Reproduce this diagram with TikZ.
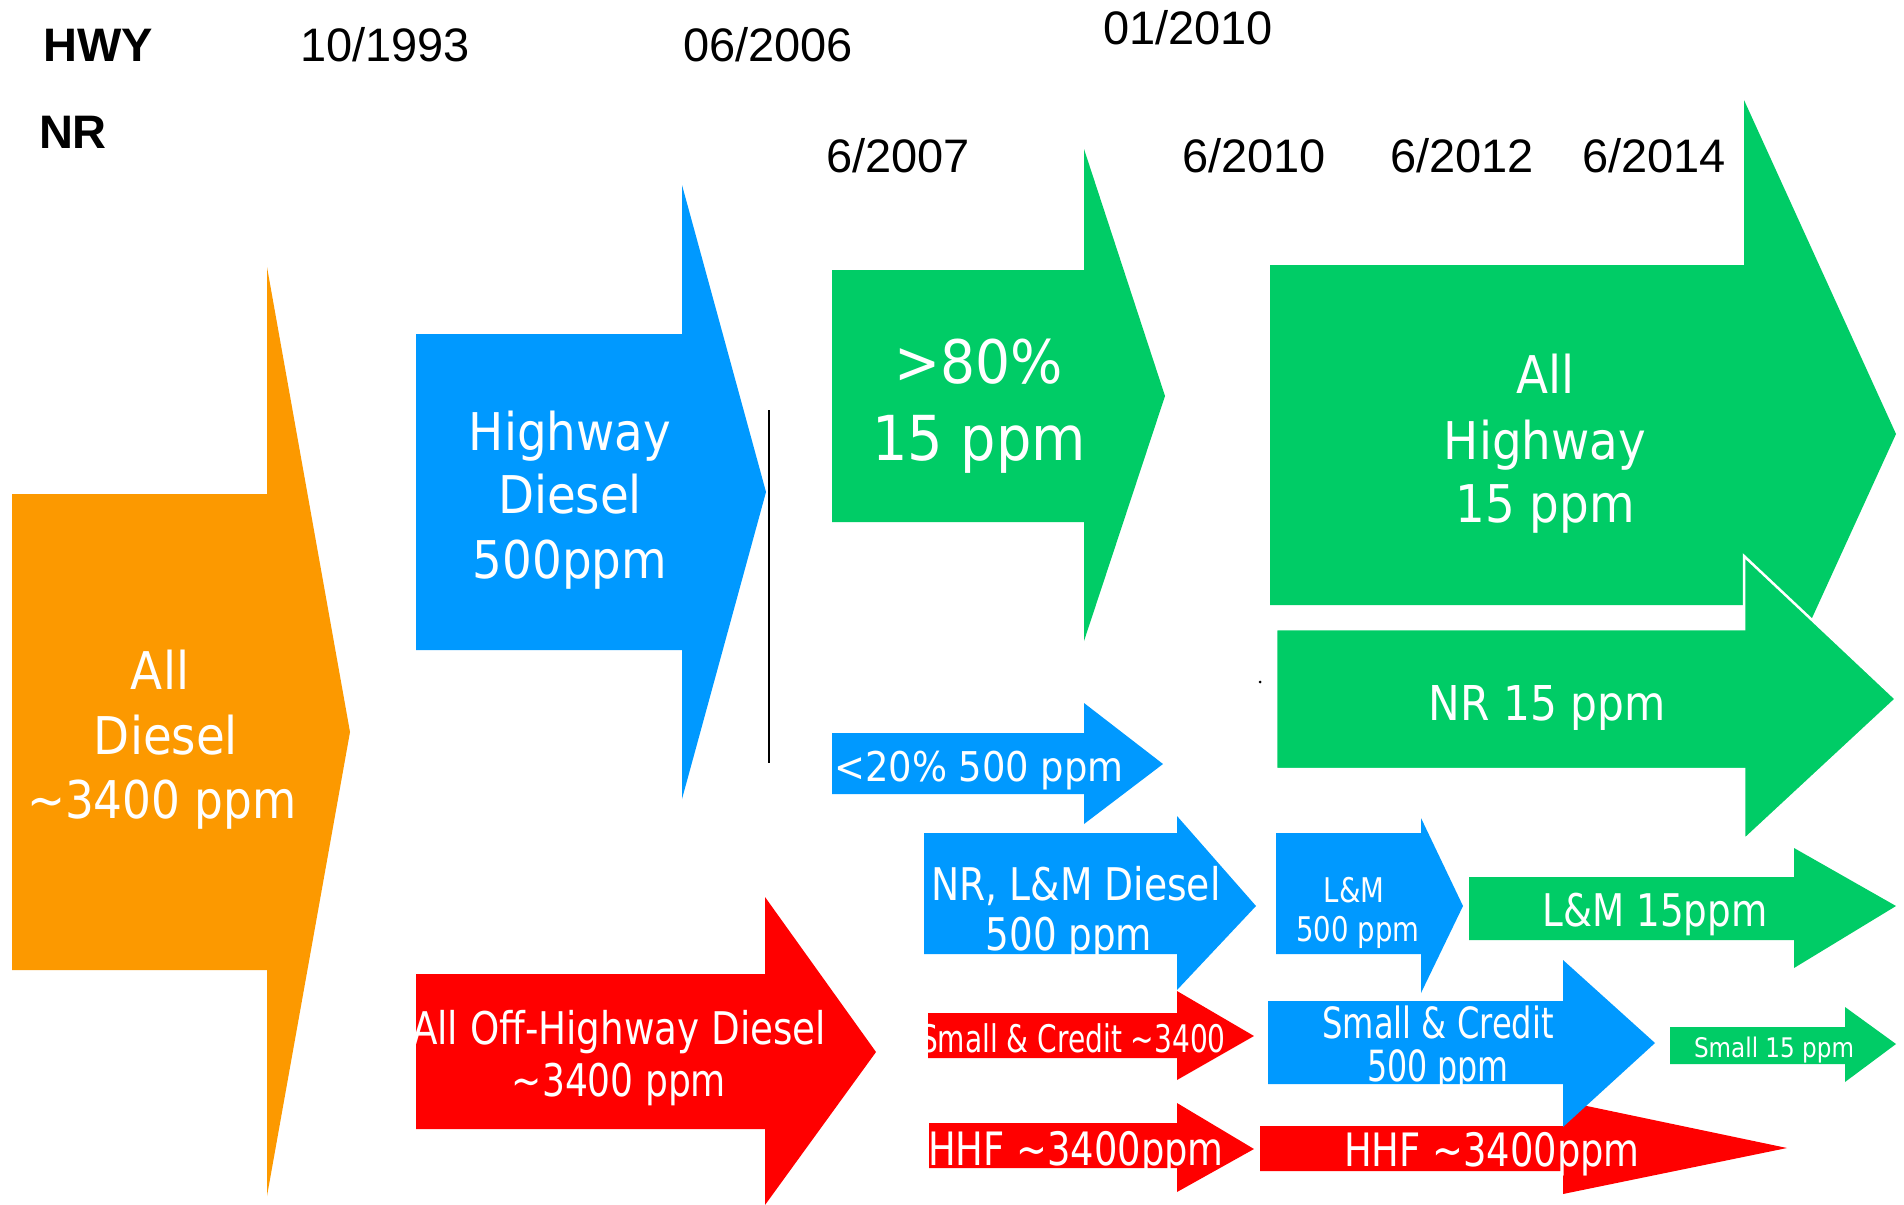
\documentclass[tikz,border=0pt]{standalone}
\usepackage{fontspec}
\usepackage{graphicx}
\setmainfont{Liberation Sans}
\newfontfamily\wf[FakeStretch=0.9]{DejaVu Sans}
\definecolor{orangeA}{RGB}{252,153,0}
\definecolor{blueA}{RGB}{0,153,255}
\definecolor{greenA}{RGB}{0,204,102}
\definecolor{redA}{RGB}{255,0,0}
\tikzset{
  lab/.style={anchor=base, inner sep=0pt, text=black, font=\fontsize{47}{50}\selectfont},
  wt/.style={anchor=base, inner sep=0pt, text=white},
  outl/.style={draw=white, line width=2.5pt, line join=miter},
}
% color/options, left, top, bottom, head x, head top, tip x, tip y, head bottom
\newcommand\myarrow[9]{\path[#1] (#2,#3) -- (#5,#3) -- (#5,#6) -- (#7,#8) -- (#5,#9) -- (#5,#4) -- (#2,#4) -- cycle;}
% name, x, baseline y, size, xscale, text
\newcommand\wlab[6]{\node[wt, font={\wf\fontsize{#4}{#4}\selectfont}] (#1) at (#2,#3) {\scalebox{#5}[1]{#6}};}
\begin{document}
\begin{tikzpicture}[x=1pt,y=-1pt]
\useasboundingbox (0,0) rectangle (1904,1205);
\fill[white] (0,0) rectangle (1904,1205);

% arrows
\myarrow{fill=orangeA}{12}{494}{970}{267}{267}{350}{732}{1196}
\myarrow{fill=blueA}{416}{334}{650}{682}{185}{766}{492}{799}
\draw[black, line width=2.5pt] (769,410) -- (769,763);
\myarrow{fill=greenA}{832}{270}{522}{1084}{149}{1165}{396}{641}
\myarrow{fill=blueA}{832}{733}{794}{1084}{703}{1163}{764}{824}
\myarrow{fill=greenA}{1270}{265}{605}{1744}{100}{1896}{434}{767}
\myarrow{fill=greenA, outl}{1276}{629}{769}{1744}{556}{1896}{699}{840}
\myarrow{fill=blueA}{924}{833}{954}{1177}{816}{1256}{906}{990}
\myarrow{fill=blueA}{1276}{833}{954}{1421}{818}{1463}{906}{993}
\myarrow{fill=greenA}{1469}{877}{940}{1794}{848}{1896}{906}{968}
\myarrow{fill=redA}{416}{974}{1129}{765}{897}{876}{1052}{1205}
\myarrow{fill=redA}{928}{1013}{1058}{1177}{991}{1254}{1036}{1080}
\myarrow{fill=redA}{1260}{1126}{1171}{1563}{1101}{1787}{1148}{1194}
\myarrow{fill=blueA}{1268}{1001}{1084}{1563}{960}{1655}{1043}{1127}
\myarrow{fill=greenA}{1670}{1027}{1064}{1845}{1007}{1896}{1044}{1082}
\myarrow{fill=redA}{929}{1123}{1168}{1177}{1103}{1254}{1149}{1192}

\fill[black] (1260,682) circle (1.5);

% header labels
\node[lab] (hwy) at (98,61) {\textbf{HWY}};
\node[lab] (d1993) at (385,61) {10/1993};
\node[lab] (d2006) at (768,61) {06/2006};
\node[lab] (d2010a) at (1188,44) {01/2010};
\node[lab] (nr) at (73,148) {\textbf{NR}};
\node[lab] (d2007) at (898,172) {6/2007};
\node[lab] (d2010) at (1254,172) {6/2010};
\node[lab] (d2012) at (1462,172) {6/2012};
\node[lab] (d2014) at (1654,172) {6/2014};

% white texts
\wlab{o1}{160}{689}{52}{1}{All}
\wlab{o2}{166}{754}{52}{1}{Diesel}
\wlab{o3}{162}{818}{52}{0.97}{\textasciitilde3400 ppm}

\wlab{b1}{570}{450}{52}{1}{Highway}
\wlab{b2}{570}{513}{52}{1}{Diesel}
\wlab{b3}{570}{578}{52}{1}{500ppm}

\wlab{g1}{979}{383}{60}{1.02}{>80\%}
\wlab{g2}{979}{460}{62}{1}{15 ppm}

\wlab{b20}{979}{781}{41}{1}{<20\% 500 ppm}

\wlab{h1}{1545}{393}{52}{1}{All}
\wlab{h2}{1545}{459}{52}{1}{Highway}
\wlab{h3}{1545}{522}{52}{1}{15 ppm}

\wlab{nr15}{1547}{720}{48}{0.98}{NR 15 ppm}

\wlab{nl1}{1076}{900}{45}{0.93}{NR, L\&M Diesel}
\wlab{nl2}{1069}{950}{45}{0.92}{500 ppm}

\wlab{lm1}{1354}{902}{34}{0.9}{L\&M}
\wlab{lm2}{1358}{941}{34}{0.9}{500 ppm}

\wlab{lm15}{1655}{926}{45}{0.92}{L\&M 15ppm}

\wlab{off1}{619}{1044}{45}{0.92}{All Off-Highway Diesel}
\wlab{off2}{619}{1096}{45}{0.89}{\textasciitilde3400 ppm}

\wlab{sc1}{1073}{1052}{38}{0.82}{Small \& Credit \textasciitilde3400}

\wlab{sb1}{1438}{1038}{43}{0.83}{Small \& Credit}
\wlab{sb2}{1438}{1081}{43}{0.82}{500 ppm}

\wlab{s15}{1774}{1057}{27}{0.95}{Small 15 ppm}

\wlab{hl}{1076}{1165}{46}{0.89}{HHF \textasciitilde3400ppm}
\wlab{hr}{1492}{1166}{46}{0.89}{HHF \textasciitilde3400ppm}
\end{tikzpicture}
\end{document}
